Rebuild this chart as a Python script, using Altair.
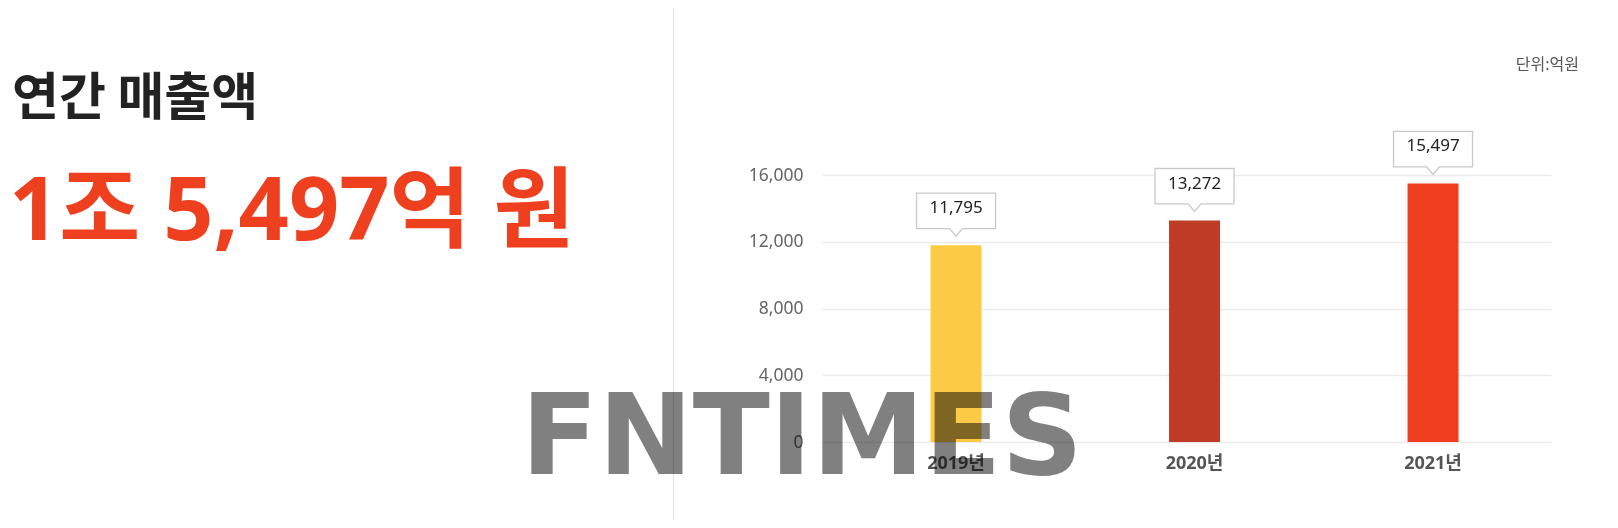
import altair as alt
import pandas as pd

years = ["2019년", "2020년", "2021년"]
values = [11795, 13272, 15497]
bar_colors = ["#FDCA46", "#BF3C27", "#EE3E1F"]
y_ticks = [0, 4000, 8000, 12000, 16000]

title_text = "연간 매출액"
headline_text = "1조 5,497억 원"
unit_text = "단위:억원"
watermark_text = "FNTIMES"

FONT = "Noto Sans, Noto Sans CJK KR, sans-serif"

df = pd.DataFrame({"year": years, "value": values})

W, H = 729, 267
PAD_L, PAD_T, PAD_R, PAD_B = 814, 167, 59, 78

x_enc = alt.X(
    "year:N",
    sort=years,
    scale=alt.Scale(paddingInner=0.7862, paddingOuter=0.4214, align=0.54),
    axis=alt.Axis(
        title=None, labelAngle=0, ticks=False, tickSize=0, domain=False,
        labelFont=FONT, labelFontSize=18, labelFontWeight="bold",
        labelColor="#555555", labelPadding=12, grid=False,
    ),
)
y_enc = alt.Y(
    "value:Q",
    scale=alt.Scale(domain=[0, 16000], nice=False),
    axis=alt.Axis(
        title=None, values=y_ticks, format=",.0f", ticks=False, tickSize=0,
        domain=False, labelFont=FONT, labelFontSize=17.5, labelColor="#666666",
        labelPadding=19, gridColor="#ebebeb", gridWidth=1.5,
    ),
)

base = alt.Chart(df)

bars = base.mark_bar().encode(
    x=x_enc,
    y=y_enc,
    color=alt.Color("year:N", scale=alt.Scale(domain=years, range=bar_colors), legend=None),
)

callout_path = (
    "M -0.9875 -1.3 L 0.9875 -1.3 L 0.9875 -0.415 L 0.16 -0.415 "
    "L 0 -0.225 L -0.16 -0.415 L -0.9875 -0.415 Z"
)
boxes = base.mark_point(
    shape=callout_path, size=6400, filled=True, fill="white",
    stroke="#c9c9c9", strokeWidth=1.3, opacity=1,
).encode(x=alt.X("year:N", sort=years), y="value:Q")

labels = base.mark_text(
    dy=-37, font=FONT, fontSize=17, color="#222222", baseline="middle",
).encode(x=alt.X("year:N", sort=years), y="value:Q", text=alt.Text("value:Q", format=",.0f"))

one = alt.Data(values=[{"k": 1}])

border = alt.Chart(one).mark_rule(color="#e6e6e6", strokeWidth=1.2).encode(
    x=alt.value(-148.5), y=alt.value(-PAD_T), y2=alt.value(H + PAD_B)
)

unit = alt.Chart(one).mark_text(
    text=unit_text, font=FONT, fontSize=16, color="#555555", align="right", baseline="middle"
).encode(x=alt.value(757), y=alt.value(-110.5))

title = alt.Chart(one).mark_text(
    text=title_text, font="Noto Sans CJK KR", fontSize=51, fontWeight="bold",
    color="#222222", align="left", baseline="alphabetic"
).encode(x=alt.value(-810), y=alt.value(-60))

headline = alt.Chart(one).mark_text(
    text=headline_text, font=FONT, fontSize=88, fontWeight="bold",
    color="#EE3F1F", align="left", baseline="alphabetic"
).encode(x=alt.value(-813), y=alt.value(65))

watermark = alt.Chart(one).mark_text(
    text=watermark_text, font="DejaVu Sans", fontSize=113, fontWeight="bold",
    color="#808080", align="left", baseline="alphabetic", blend="multiply"
).encode(x=alt.value(-301), y=alt.value(299))

chart = alt.layer(
    border, bars, boxes, labels, unit, title, headline, watermark
).properties(
    width=W, height=H,
    padding={"left": PAD_L, "top": PAD_T, "right": PAD_R, "bottom": PAD_B},
    autosize=alt.AutoSizeParams(type="none"),
).configure_view(stroke=None)

chart.save("out.html", embed_options={"renderer": "svg", "actions": False})
